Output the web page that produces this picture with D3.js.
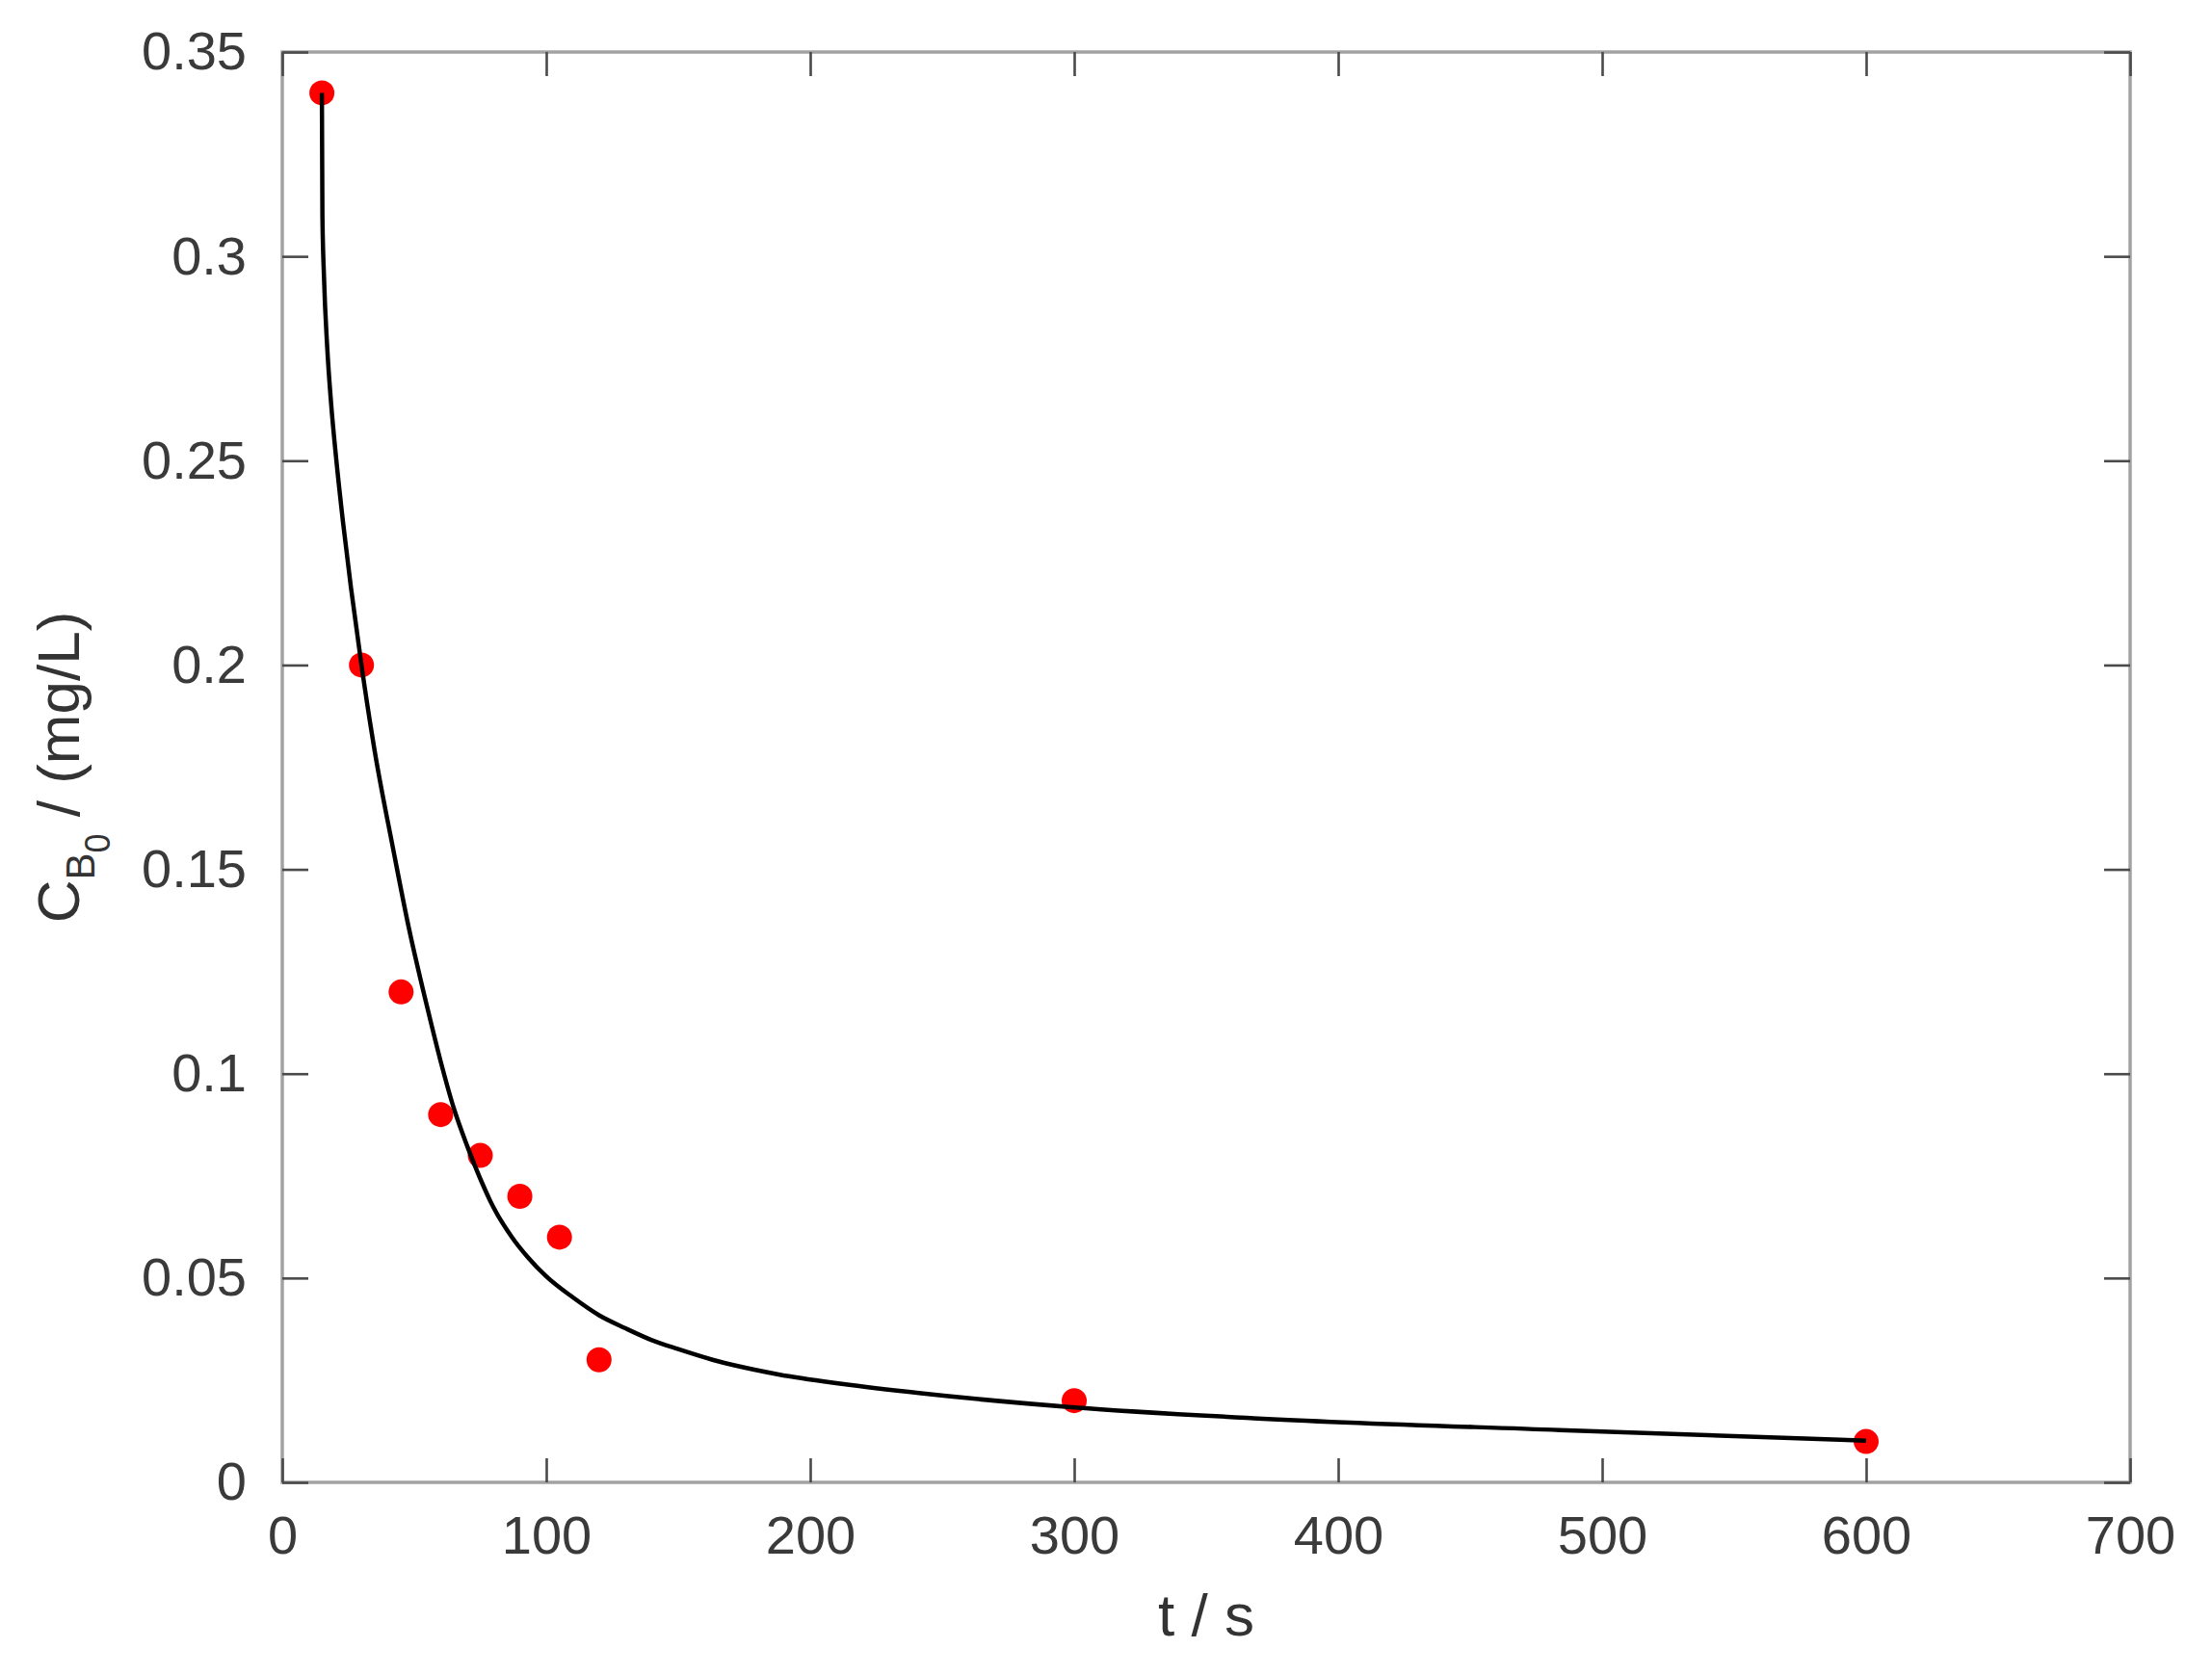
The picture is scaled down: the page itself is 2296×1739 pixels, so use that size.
<!DOCTYPE html>
<html>
<head>
<meta charset="utf-8">
<script src="https://cdn.jsdelivr.net/npm/d3@7"></script>
<style>
  html, body { margin: 0; padding: 0; background: #fff; }
  svg { display: block; }
</style>
</head>
<body>
<svg id="chart" width="2296" height="1739"></svg>
<script>
// ---- data ----
const dataT = [15, 30, 45, 60, 75, 90, 105, 120, 300, 600];
const dataC = [0.34, 0.20, 0.12, 0.09, 0.08, 0.07, 0.06, 0.03, 0.02, 0.01];

const curveT = [15, 15.2, 15.8, 17, 18.5, 20.5, 23, 26, 30, 35, 42, 48, 55, 60, 65, 70, 75, 80, 87, 93, 100, 110, 120, 130, 140, 150, 163, 188, 212, 242, 299, 368, 484, 600];
const curveC = [0.340, 0.310, 0.295, 0.278, 0.264, 0.250, 0.235, 0.219, 0.200, 0.179, 0.155, 0.1355, 0.116, 0.1030, 0.0915, 0.0824, 0.0743, 0.0673, 0.0600, 0.0551, 0.0504, 0.0453, 0.0409, 0.0377, 0.0348, 0.0326, 0.0300, 0.0264, 0.0241, 0.0218, 0.0184, 0.0157, 0.0128, 0.0102];

const xTicks = [0, 100, 200, 300, 400, 500, 600, 700];
const yTicks = [0, 0.05, 0.1, 0.15, 0.2, 0.25, 0.3, 0.35];

const xLabel = "t / s";

// ---- layout ----
const L = 293, R = 2211, T = 54, B = 1539;
const svg = d3.select("#chart");
const x = d3.scaleLinear().domain([0, 700]).range([L, R]);
const y = d3.scaleLinear().domain([0, 0.35]).range([B, T]);
const FONT = "'Liberation Sans', Arial, Helvetica, sans-serif";
const fmt = d => String(+d.toFixed(2));

// frame
svg.append("rect")
  .attr("x", L).attr("y", T).attr("width", R - L).attr("height", B - T)
  .attr("fill", "none").attr("stroke", "#a2a2a2").attr("stroke-width", 3.5);

function styleAxis(g, showLabels) {
  g.select(".domain").remove();
  g.selectAll(".tick line").attr("stroke", "#4a4a4a").attr("stroke-width", 2.6);
  g.selectAll(".tick text")
    .attr("fill", "#3a3a3a")
    .style("font-family", FONT)
    .style("font-size", "56px");
  if (!showLabels) g.selectAll(".tick text").remove();
}

// bottom axis
svg.append("g").attr("transform", `translate(0,${B})`)
  .call(d3.axisBottom(x).tickValues(xTicks).tickFormat(fmt).tickSizeInner(-25).tickSizeOuter(0).tickPadding(34))
  .call(g => styleAxis(g, true));
// top axis
svg.append("g").attr("transform", `translate(0,${T})`)
  .call(d3.axisTop(x).tickValues(xTicks).tickSizeInner(-25).tickSizeOuter(0))
  .call(g => styleAxis(g, false));
// left axis
svg.append("g").attr("transform", `translate(${L},0)`)
  .call(d3.axisLeft(y).tickValues(yTicks).tickFormat(fmt).tickSizeInner(-27).tickSizeOuter(0).tickPadding(37))
  .call(g => styleAxis(g, true));
// right axis
svg.append("g").attr("transform", `translate(${R},0)`)
  .call(d3.axisRight(y).tickValues(yTicks).tickSizeInner(-27).tickSizeOuter(0))
  .call(g => styleAxis(g, false));

// data points (drawn under the curve)
const pts = dataT.map((t, i) => ({t, c: dataC[i]}));
svg.append("g").selectAll("circle").data(pts).join("circle")
  .attr("cx", d => x(d.t)).attr("cy", d => y(d.c)).attr("r", 13)
  .attr("fill", "#ff0000");

// fitted curve
const curvePts = curveT.map((t, i) => ({t, c: curveC[i]}));
svg.append("path").datum(curvePts)
  .attr("d", d3.line().x(d => x(d.t)).y(d => y(d.c)).curve(d3.curveMonotoneX))
  .attr("fill", "none").attr("stroke", "#000").attr("stroke-width", 4.5)
  .attr("stroke-linejoin", "round");

// x axis label
svg.append("text")
  .attr("x", (L + R) / 2).attr("y", 1698)
  .attr("text-anchor", "middle")
  .attr("fill", "#333")
  .style("font-family", FONT).style("font-size", "62px")
  .text(xLabel);

// y axis label: C_{B_0} / (mg/L)
const yl = svg.append("text")
  .attr("transform", `translate(82,${(T + B) / 2}) rotate(-90)`)
  .attr("text-anchor", "middle")
  .attr("fill", "#333")
  .style("font-family", FONT).style("font-size", "62px");
yl.append("tspan").text("C");
yl.append("tspan").attr("dy", 16).style("font-size", "42px").text("B");
yl.append("tspan").attr("dy", 16).style("font-size", "36px").text("0");
yl.append("tspan").attr("dy", -32).style("font-size", "62px").text(" / (mg/L)");
</script>
</body>
</html>
